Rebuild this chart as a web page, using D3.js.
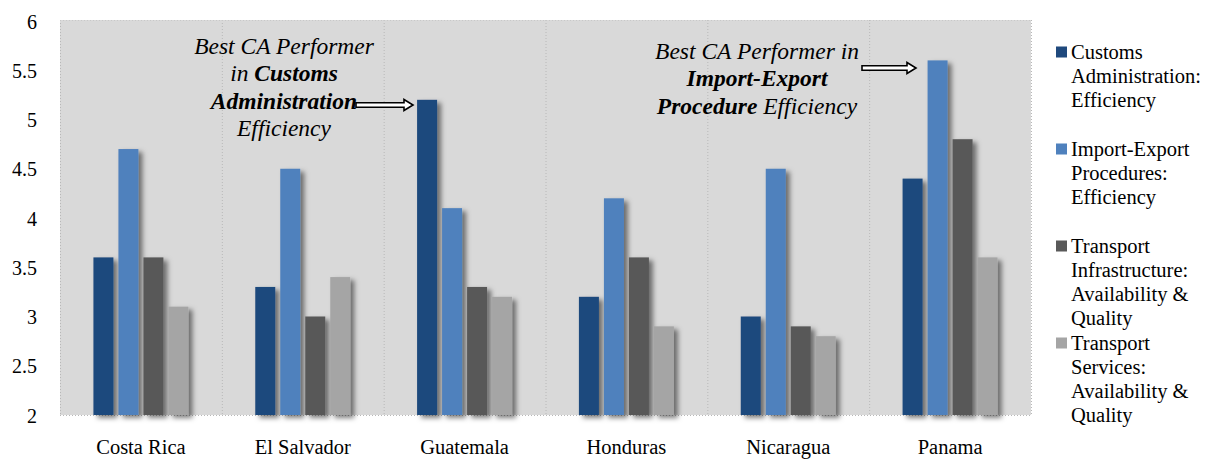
<!DOCTYPE html>
<html>
<head>
<meta charset="utf-8">
<script src="https://cdn.jsdelivr.net/npm/d3@7"></script>
<style>
  body { margin: 0; background: #fff; }
  svg text { font-family: "Liberation Serif", "Times New Roman", "DejaVu Serif", serif; fill: #000; }
</style>
</head>
<body>
<script>
// data
const countries = ["Costa Rica", "El Salvador", "Guatemala", "Honduras", "Nicaragua", "Panama"];
const seriesNames = ["Customs Administration: Efficiency", "Import-Export Procedures: Efficiency",
  "Transport Infrastructure: Availability & Quality", "Transport Services: Availability & Quality"];
const legendLines = [
  ["Customs", "Administration:", "Efficiency"],
  ["Import-Export", "Procedures:", "Efficiency"],
  ["Transport", "Infrastructure:", "Availability &", "Quality"],
  ["Transport", "Services:", "Availability &", "Quality"]
];
const customs = [3.6, 3.3, 5.2, 3.2, 3.0, 4.4];
const importExport = [4.7, 4.5, 4.1, 4.2, 4.5, 5.6];
const infrastructure = [3.6, 3.0, 3.3, 3.6, 2.9, 4.8];
const services = [3.1, 3.4, 3.2, 2.9, 2.8, 3.6];
const yTicks = [2, 2.5, 3, 3.5, 4, 4.5, 5, 5.5, 6];
const colors = ["#1F497D", "#4F81BD", "#595959", "#A5A5A5"];

const allSeries = [customs, importExport, infrastructure, services];

const W = 1207, H = 459;
const plotL = 60, plotR = 1031, plotT = 20, plotB = 415;
const serif = '"Liberation Serif", "Times New Roman", "DejaVu Serif", serif';

const svg = d3.select("body").append("svg").attr("width", W).attr("height", H);

const defs = svg.append("defs");
const f = defs.append("filter").attr("id", "shadow")
  .attr("x", "-30%").attr("y", "-10%").attr("width", "180%").attr("height", "130%");
f.append("feDropShadow").attr("dx", 4).attr("dy", 3).attr("stdDeviation", 2.5)
  .attr("flood-color", "#000").attr("flood-opacity", 0.5);

const x0 = d3.scaleBand().domain(countries).range([plotL, plotR]).padding(0);
const x1 = d3.scaleBand().domain(d3.range(4)).range([0, 95]).paddingInner(0.2).paddingOuter(0);
const groupOffset = (x0.bandwidth() - 95) / 2;
const y = d3.scaleLinear().domain([2, 6]).range([plotB, 21]);

// plot area
svg.append("rect").attr("x", plotL).attr("y", plotT).attr("width", plotR - plotL).attr("height", plotB - plotT)
  .attr("fill", "#D9D9D9");

// dotted category dividers + border
const dividers = countries.map(c => x0(c)).concat([plotR]);
svg.selectAll("line.div").data(dividers).enter().append("line")
  .attr("x1", d => d + 0.5).attr("x2", d => d + 0.5).attr("y1", plotT).attr("y2", plotB)
  .attr("stroke", "#B8B8B8").attr("stroke-dasharray", "1,2");
svg.append("line").attr("x1", plotL).attr("x2", plotR).attr("y1", plotT + 0.5).attr("y2", plotT + 0.5)
  .attr("stroke", "#C8C8C8").attr("stroke-dasharray", "1,2");
svg.append("line").attr("x1", plotL).attr("x2", plotR).attr("y1", plotB + 0.5).attr("y2", plotB + 0.5)
  .attr("stroke", "#B8B8B8").attr("stroke-dasharray", "1,2");

// bars
const groups = svg.selectAll("g.grp").data(countries).enter().append("g")
  .attr("transform", c => `translate(${x0(c) + groupOffset},0)`);
groups.selectAll("rect").data((c, i) => allSeries.map((s, k) => ({ k, v: s[i] }))).enter().append("rect")
  .attr("x", d => x1(d.k))
  .attr("y", d => y(d.v))
  .attr("width", x1.bandwidth())
  .attr("height", d => y(2) - y(d.v))
  .attr("fill", d => colors[d.k])
  .attr("filter", "url(#shadow)");

// y axis labels
svg.selectAll("text.yt").data(yTicks).enter().append("text")
  .attr("font-family", serif)
  .attr("x", 37).attr("y", d => y(d) + 7.5)
  .attr("text-anchor", "end").attr("font-size", 20)
  .text(d => d);

// x axis labels
svg.selectAll("text.xt").data(countries).enter().append("text")
  .attr("font-family", serif)
  .attr("x", c => x0(c) + x0.bandwidth() / 2).attr("y", 454)
  .attr("text-anchor", "middle").attr("font-size", 20.5)
  .text(c => c);

// legend
const leg = svg.selectAll("g.leg").data(legendLines).enter().append("g")
  .attr("transform", (d, i) => `translate(1056,${52 + i * 97})`);
leg.append("rect").attr("x", 0).attr("y", -5.5).attr("width", 11).attr("height", 11)
  .attr("fill", (d, i) => colors[i]);
leg.each(function (lines) {
  const t = d3.select(this).append("text").attr("font-family", serif).attr("font-size", 20.5);
  lines.forEach((ln, j) => {
    t.append("tspan").attr("x", 15).attr("y", 7 + j * 24).text(ln);
  });
});

// annotations
const notes = [
  { cx: 284, y0: 54, lines: [[["Best CA Performer", false]], [["in ", false], ["Customs", true]],
    [["Administration", true]], [["Efficiency", false]]] },
  { cx: 757, y0: 59, lines: [[["Best CA Performer in", false]], [["Import-Export", true]],
    [["Procedure", true], [" Efficiency", false]]] }
];
notes.forEach(n => {
  n.lines.forEach((ln, j) => {
    const t = svg.append("text").attr("font-family", serif)
      .attr("x", n.cx).attr("y", n.y0 + j * 27.3)
      .attr("text-anchor", "middle").attr("font-size", 23.5).attr("font-style", "italic");
    ln.forEach(([s, b]) => t.append("tspan").attr("font-weight", b ? "bold" : "normal").text(s));
  });
});

// block arrows
function arrow(xa, xb, yc) {
  const sh = 2.2, hh = 5.5, hl = 9;
  return `M${xa},${yc - sh}L${xb - hl},${yc - sh}L${xb - hl},${yc - hh}L${xb},${yc}` +
    `L${xb - hl},${yc + hh}L${xb - hl},${yc + sh}L${xa},${yc + sh}Z`;
}
[[356, 413, 105], [862, 916, 68]].forEach(a => {
  svg.append("path").attr("d", arrow(a[0], a[1], a[2]))
    .attr("fill", "#fff").attr("stroke", "#000").attr("stroke-width", 1.6)
    .attr("stroke-linejoin", "miter");
});
</script>
</body>
</html>
